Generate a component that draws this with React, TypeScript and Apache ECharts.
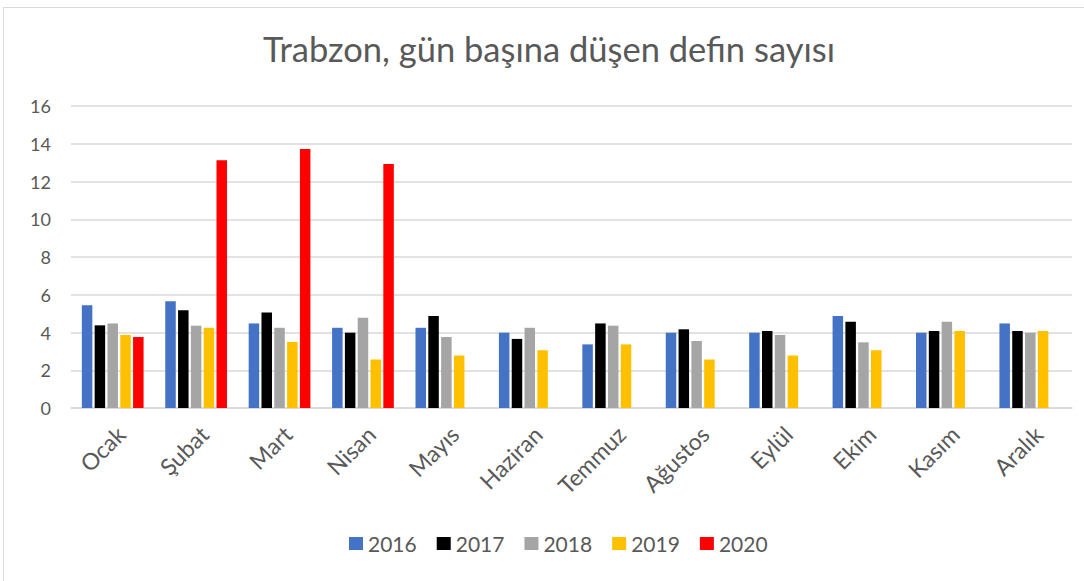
import React, { useEffect, useRef } from "react";
import * as echarts from "echarts";

const months = ["Ocak", "Şubat", "Mart", "Nisan", "Mayıs", "Haziran", "Temmuz", "Ağustos", "Eylül", "Ekim", "Kasım", "Aralık"];
const y2016 = [5.45, 5.66, 4.48, 4.25, 4.25, 3.99, 3.37, 3.99, 3.99, 4.87, 3.99, 4.48];
const y2017 = [4.38, 5.18, 5.06, 3.99, 4.87, 3.66, 4.48, 4.17, 4.08, 4.57, 4.08, 4.08];
const y2018 = [4.48, 4.36, 4.25, 4.78, 3.76, 4.25, 4.36, 3.55, 3.87, 3.48, 4.57, 3.99];
const y2019 = [3.87, 4.25, 3.5, 2.57, 2.78, 3.06, 3.37, 2.57, 2.78, 3.06, 4.08, 4.08];
const y2020 = [3.76, 13.12, 13.72, 12.93, null, null, null, null, null, null, null, null];
const seriesNames = ["2016", "2017", "2018", "2019", "2020"];
const colors = ["#4472c4", "#000000", "#a5a5a5", "#ffc000", "#ff0000"];

export default function App() {
  const ref = useRef<HTMLDivElement>(null);
  useEffect(() => {
    const chart = echarts.init(ref.current!, null, { renderer: "svg" });
    const data = [y2016, y2017, y2018, y2019, y2020];
    const font = "Lato, 'Open Sans', sans-serif";
    chart.setOption({
      animation: false,
      textStyle: { fontFamily: font },
      title: {
        text: "Trabzon, gün başına düşen defin sayısı",
        left: 254,
        top: 18,
        textStyle: { fontSize: 34.5, fontWeight: "normal", color: "#595959", fontFamily: font },
      },
      legend: {
        bottom: 22,
        left: 340,
        itemWidth: 14,
        itemHeight: 13,
        itemGap: 20,
        icon: "rect",
        textStyle: { fontSize: 21, color: "#595959", fontFamily: font },
        data: seriesNames,
      },
      grid: { left: 67, right: 12, top: 98, bottom: 173 },
      xAxis: {
        type: "category",
        data: months,
        axisLine: { lineStyle: { color: "#d9d9d9", width: 1.5 } },
        axisTick: { show: false },
        axisLabel: { rotate: 45, fontSize: 23, color: "#595959", margin: 14, verticalAlign: "top", fontFamily: font },
      },
      yAxis: {
        type: "value",
        min: 0,
        max: 16,
        interval: 2,
        axisLine: { show: false },
        axisTick: { show: false },
        splitLine: { lineStyle: { color: "#d9d9d9", width: 1.5 } },
        axisLabel: { fontSize: 18, color: "#595959", margin: 20, fontFamily: font },
      },
      series: data.map((d, i) => ({
        name: seriesNames[i],
        type: "bar",
        data: d,
        barWidth: 10.5,
        barGap: "22%",
        itemStyle: { color: colors[i] },
      })),
    });
    return () => chart.dispose();
  }, []);
  return (
    <div
      style={{
        position: "fixed",
        left: 3,
        top: 7,
        width: 1081,
        height: 574,
        boxSizing: "border-box",
        borderLeft: "1px solid #d9d9d9",
        borderTop: "1px solid #d9d9d9",
        background: "#fff",
      }}
    >
      <div ref={ref} style={{ width: 1080, height: 573 }} />
    </div>
  );
}
